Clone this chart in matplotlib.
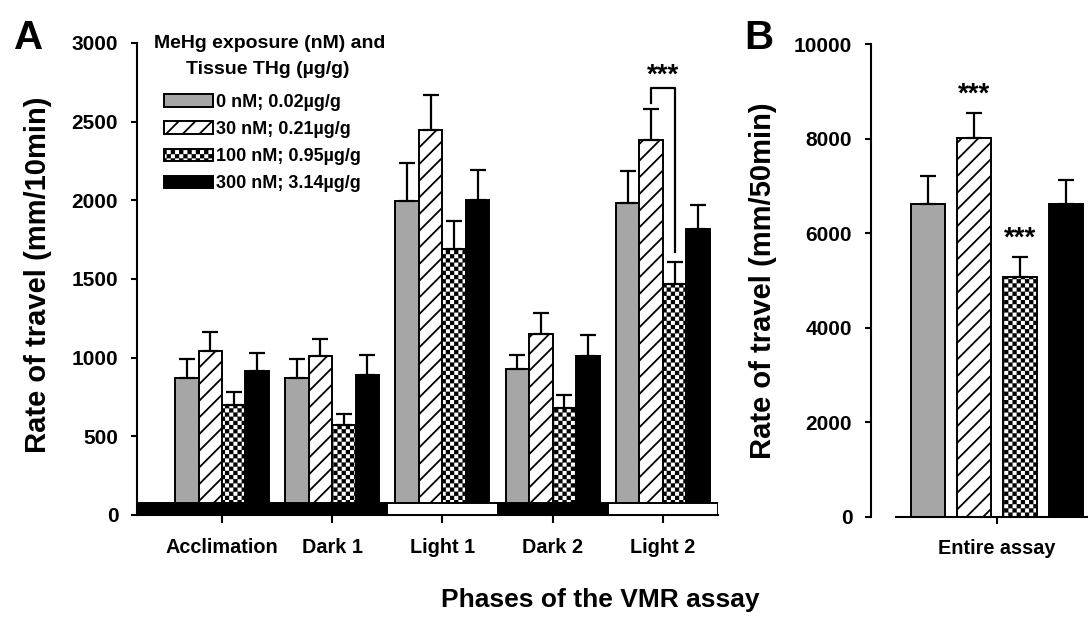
import warnings
import matplotlib
matplotlib.use("Agg")
import matplotlib.pyplot as plt
import matplotlib.hatch as mhatch
from matplotlib.path import Path
from matplotlib.patches import Patch, Rectangle
import numpy as np

warnings.filterwarnings("ignore")

phases = ["Acclimation", "Dark 1", "Light 1", "Dark 2", "Light 2"]
phase_is_light = [False, False, True, False, True]
groups = ["0 nM; 0.02µg/g", "30 nM; 0.21µg/g", "100 nM; 0.95µg/g", "300 nM; 3.14µg/g"]

# rate of travel per 10 min phase (mean and SEM)
rate_0 = [870, 870, 1995, 928, 1983]
rate_30 = [1045, 1010, 2445, 1150, 2384]
rate_100 = [700, 572, 1690, 680, 1468]
rate_300 = [915, 893, 2005, 1011, 1815]

sem_0 = [120, 120, 245, 92, 203]
sem_30 = [120, 110, 225, 134, 196]
sem_100 = [82, 70, 180, 85, 140]
sem_300 = [115, 124, 190, 133, 155]

# whole 50 min assay
total_rate = [6617, 8012, 5074, 6617]
total_sem = [592, 529, 423, 508]


# checkerboard hatch ('c'), matplotlib has none built in
class CheckerHatch(mhatch.HatchPatternBase):
    def __init__(self, hatch, density):
        self.cells = hatch.count("c") * 8
        self.num_vertices = (self.cells * self.cells // 2) * 5

    def set_vertices_and_codes(self, vertices, codes):
        n = self.cells
        step = 1.0 / n
        ins = step * 0.2
        k = 0
        for i in range(n):
            for j in range(n):
                if (i + j) % 2:
                    continue
                x0, x1 = i * step + ins, (i + 1) * step - ins
                y0, y1 = j * step + ins, (j + 1) * step - ins
                vertices[k:k + 5] = [(x0, y0), (x1, y0), (x1, y1), (x0, y1), (x0, y0)]
                codes[k:k + 5] = [Path.MOVETO, Path.LINETO, Path.LINETO,
                                  Path.LINETO, Path.CLOSEPOLY]
                k += 5


mhatch._hatch_types.append(CheckerHatch)

plt.rcParams["font.family"] = ["Liberation Sans", "DejaVu Sans"]
plt.rcParams["font.weight"] = "bold"
plt.rcParams["hatch.linewidth"] = 1.3

W, H = 1088, 617


def fx(px):
    return px / W


def fy(py):
    return 1 - py / H


faces = ["#a6a6a6", "white", "white", "black"]
hatches = [None, "//", "ccc", None]
rates = [rate_0, rate_30, rate_100, rate_300]
sems = [sem_0, sem_30, sem_100, sem_300]

fig = plt.figure(figsize=(W / 100, H / 100), dpi=100)

# ---- panel A ----
ax = fig.add_axes([fx(137), fy(515), fx(718) - fx(137), fy(43) - fy(515)])
x = np.arange(1, len(phases) + 1)
w = 0.213
for k in range(4):
    xs = x + (k - 1.5) * w
    ax.bar(xs, rates[k], w, color=faces[k], edgecolor="black", linewidth=1.4,
           hatch=hatches[k], zorder=2)
    ax.errorbar(xs, rates[k], yerr=[np.zeros(len(x)), sems[k]], fmt="none",
                ecolor="black", elinewidth=1.6, capsize=5.5, capthick=1.6, zorder=3)

# light / dark bar along the bottom
for i, light in enumerate(phase_is_light):
    x0 = x[i] - 0.5 if i > 0 else 0
    x1 = x[i] + 0.5
    ax.add_patch(Rectangle((x0, 0), x1 - x0, 76, facecolor="white" if light else "black",
                           edgecolor="black", linewidth=1.4, zorder=4))

# significance bracket in Light 2
xh = x[4] - 0.5 * w
xc = x[4] + 0.5 * w
ax.plot([xh, xh, xc, xc], [2620, 2714, 2714, 1672], color="black", lw=1.6, zorder=3)
ax.text(x[4], 2790, "***", ha="center", va="center", fontsize=20, fontweight="bold")

ax.set_xlim(0.229, 5.5)
ax.set_ylim(0, 3000)
ax.set_yticks(range(0, 3001, 500))
ax.set_xticks(x, phases)
ax.tick_params(axis="x", length=5.8, width=1.5, pad=11, labelsize=14.3)
ax.tick_params(axis="y", length=4.5, width=1.5, pad=9, labelsize=15)
for s in ["top", "right"]:
    ax.spines[s].set_visible(False)
for s in ["left", "bottom"]:
    ax.spines[s].set_linewidth(1.5)

handles = [Patch(facecolor=faces[k], edgecolor="black", hatch=hatches[k], linewidth=1.4)
           for k in range(4)]
ax.legend(handles, groups, loc="upper left", bbox_to_anchor=(fx(164), fy(94)),
          bbox_transform=fig.transFigure, frameon=False, borderpad=0, borderaxespad=0,
          handlelength=2.7, handleheight=0.7, handletextpad=0.2, labelspacing=0.56,
          prop={"weight": "bold", "size": 13})
fig.text(fx(270), fy(43), "MeHg exposure (nM) and", ha="center", va="center",
         fontsize=14, fontweight="bold")
fig.text(fx(268), fy(69), "Tissue THg (µg/g)", ha="center", va="center",
         fontsize=14, fontweight="bold")

# ---- panel B ----
axb = fig.add_axes([fx(896), fy(517), 1 - fx(896), fy(44) - fy(517)])
xb = np.arange(4) - 1.5
axb.bar(xb, total_rate, 0.76, color=faces, edgecolor="black", linewidth=1.4,
        hatch=hatches, zorder=2)
axb.errorbar(xb, total_rate, yerr=[np.zeros(4), total_sem], fmt="none", ecolor="black",
             elinewidth=1.6, capsize=6, capthick=1.6, zorder=3)
axb.text(xb[1], 8930, "***", ha="center", va="center", fontsize=20, fontweight="bold")
axb.text(xb[2], 5890, "***", ha="center", va="center", fontsize=20, fontweight="bold")
axb.set_xlim(-2.196, 1.978)
axb.set_ylim(0, 10000)
axb.set_yticks(range(0, 10001, 2000))
axb.set_xticks([0], ["Entire assay"])
axb.tick_params(axis="x", length=5, width=1.5, pad=11, labelsize=14.3)
axb.tick_params(axis="y", length=4.5, width=1.5, pad=9, labelsize=15)
for s in ["top", "right"]:
    axb.spines[s].set_visible(False)
for s in ["left", "bottom"]:
    axb.spines[s].set_linewidth(1.5)
axb.spines["left"].set_position(("outward", 18))

# labels
fig.text(fx(38), fy(275), "Rate of travel (mm/10min)", rotation=90, ha="center",
         va="center", fontsize=21, fontweight="bold")
fig.text(fx(763), fy(281), "Rate of travel (mm/50min)", rotation=90, ha="center",
         va="center", fontsize=21, fontweight="bold")
fig.text(fx(600), fy(600), "Phases of the VMR assay", ha="center", va="center",
         fontsize=19, fontweight="bold")
fig.text(fx(29), fy(38), "A", ha="center", va="center", fontsize=29, fontweight="bold")
fig.text(fx(759), fy(38), "B", ha="center", va="center", fontsize=29, fontweight="bold")

fig.savefig("out.png", dpi=100)
